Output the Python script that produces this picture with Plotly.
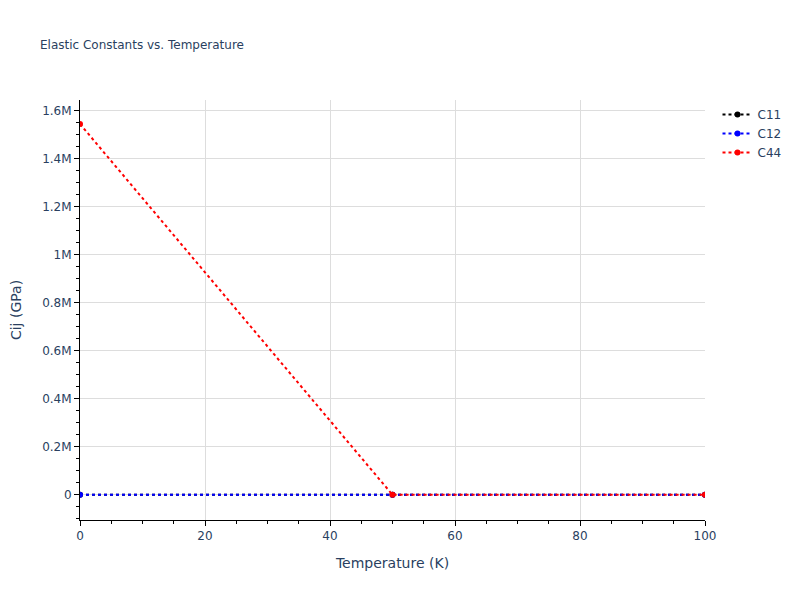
import plotly.graph_objects as go

temperature = [0, 50, 100]
c11 = [0, 0, 0]
c12 = [0, 0, 0]
c44 = [1545000, 0, 0]

series = [("C11", c11, "black"), ("C12", c12, "blue"), ("C44", c44, "red")]

fig = go.Figure()
for name, vals, color in series:
    fig.add_trace(go.Scatter(x=temperature, y=vals, name=name, mode="lines+markers",
                             line=dict(color=color, dash="dot", width=2),
                             marker=dict(color=color, size=6)))

axis_common = dict(showline=True, linecolor="black", linewidth=1, ticks="outside",
                   tickcolor="black", showgrid=True, gridcolor="#dddddd", gridwidth=1,
                   zeroline=False, tickfont=dict(size=12), automargin=False,
                   minor=dict(ticks="outside", tickcolor="black", showgrid=False))

fig.update_layout(
    template="plotly_white",
    width=800, height=600,
    margin=dict(l=72, r=103, t=92, b=88),
    font=dict(family="Verdana, DejaVu Sans, sans-serif", size=12, color="#2a3f5f"),
    title=dict(text="Elastic Constants vs. Temperature", font=dict(size=12),
               x=0.04, xanchor="left", y=0.938, yanchor="middle"),
    xaxis=dict(title=dict(text="Temperature (K)", font=dict(size=14)), range=[0, 100], **axis_common),
    yaxis=dict(title=dict(text="Cij (GPa)", font=dict(size=14), standoff=26), range=[-105000, 1645000], **axis_common),
    legend=dict(x=1.02, y=1, font=dict(size=12)),
    showlegend=True,
)
fig.write_html("out.html")
